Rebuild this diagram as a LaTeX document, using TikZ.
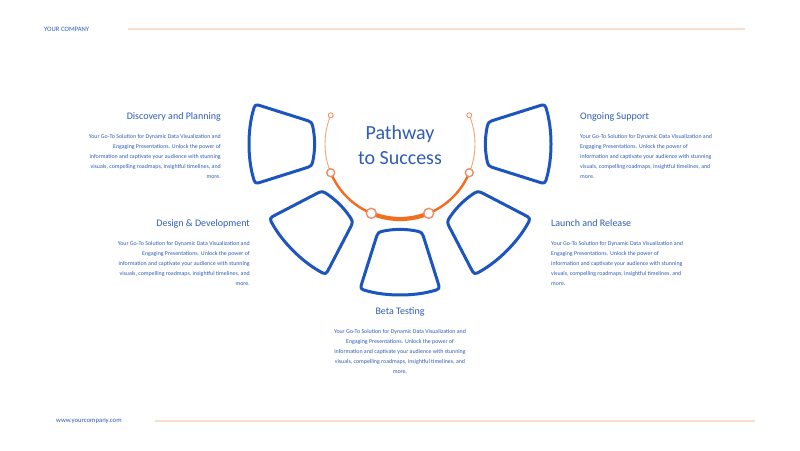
\documentclass[tikz,border=0pt]{standalone}
\usepackage{fontspec}
\setmainfont{Carlito}
\usetikzlibrary{positioning,calc}

\definecolor{inkblue}{HTML}{2F5DB3}
\definecolor{ringblue}{HTML}{1C55BE}
\definecolor{pathorange}{HTML}{F26D1F}
\definecolor{paleorange}{HTML}{F4A774}
\definecolor{dotorange}{HTML}{EC8E66}
\definecolor{rulepeach}{HTML}{F8DDCC}

\newcommand{\blurbtext}{Your Go-To Solution for Dynamic Data Visualization and\\
Engaging Presentations. Unlock the power of\\
information and captivate your audience with stunning\\
visuals, compelling roadmaps, insightful timelines, and\\
more.}

\tikzset{
  heading/.style={text=inkblue, font=\fontsize{10}{12}\selectfont, inner sep=0pt, text depth=2.2pt},
  bodytext/.style={text=inkblue, font=\fontsize{5.9}{10.2}\selectfont, inner sep=0pt},
  corner/.style={text=inkblue, font=\fontsize{6.7}{8}\selectfont, inner sep=0pt},
  stage/.style={draw=ringblue, line width=3pt, line join=round},
  rule/.style={draw=rulepeach, line width=1.1pt},
  dot/.style={circle, draw=dotorange, fill=white, line width=1.4pt, inner sep=0pt, minimum size=#1},
  dot/.default=9pt
}

\begin{document}
\begin{tikzpicture}[x=1pt,y=1pt]
\useasboundingbox[fill=white] (0,0) rectangle (800,450);

% header and footer
\node[corner, anchor=west] (company) at (44,421) {YOUR COMPANY};
\coordinate (topL) at (128,421);
\coordinate (topR) at (745,421);
\draw[rule] (topL) -- (topR);
\node[corner, anchor=west] (web) at (56,29) {www.yourcompany.com};
\coordinate (botL) at (155,29);
\coordinate (botR) at (755,29);
\draw[rule] (botL) -- (botR);

% the five stages
\foreach \r in {-90,-45,0,45,90}{
  \begin{scope}[shift={(400,306)},rotate=\r]
    \draw[stage] (-14.1,-86.6) .. controls (-5,-85) and (5,-85) .. (14.1,-86.6)
      .. controls (22,-88) .. (24.4,-95.6) -- (37.6,-137.4) .. controls (40,-145) .. (32.3,-147.1)
      .. controls (13,-152.3) and (-13,-152.3) .. (-32.3,-147.1)
      .. controls (-40,-145) .. (-37.6,-137.4) -- (-24.4,-95.6) .. controls (-22,-88) .. cycle;
  \end{scope}
}

% pathway arc
\coordinate (c) at (400,306);
\draw[paleorange, line width=0.9pt] ($(c)+(157.5:75)$) arc[start angle=157.5, end angle=202.5, radius=75];
\draw[paleorange, line width=0.9pt] ($(c)+(-22.5:75)$) arc[start angle=-22.5, end angle=22.5, radius=75];
\draw[pathorange, line width=2.4pt] ($(c)+(202.5:75)$) arc[start angle=202.5, end angle=247.5, radius=75];
\draw[pathorange, line width=2.4pt] ($(c)+(292.5:75)$) arc[start angle=292.5, end angle=337.5, radius=75];
\draw[pathorange, line width=4.2pt] ($(c)+(247.5:75)$) arc[start angle=247.5, end angle=292.5, radius=75];

\node[dot=5pt, line width=0.8pt] (endL) at ($(c)+(157.5:75)$) {};
\node[dot=5pt, line width=0.8pt] (endR) at ($(c)+(22.5:75)$) {};
\node[dot=8pt] (m1) at ($(c)+(202.5:75)$) {};
\node[dot=10pt] (m2) at ($(c)+(247.5:75)$) {};
\node[dot=10pt] (m3) at ($(c)+(292.5:75)$) {};
\node[dot=8pt] (m4) at ($(c)+(337.5:75)$) {};

\node[text=inkblue, font=\fontsize{20}{25}\selectfont, align=center, inner sep=0pt] (title) at (400,305) {Pathway\\to Success};

% labels
\node[heading, anchor=east] (disc) at (221,333) {Discovery and Planning};
\node[bodytext, align=right, below left=12pt and 0pt of disc.south east] (disctext) {\blurbtext};

\node[heading, anchor=east] (design) at (250,226) {Design \& Development};
\node[bodytext, align=right, below left=12pt and 0pt of design.south east] (designtext) {\blurbtext};

\node[heading] (beta) at (400,138) {Beta Testing};
\node[bodytext, align=center, below=12pt of beta.south] (betatext) {\blurbtext};

\node[heading, anchor=west] (launch) at (551,226) {Launch and Release};
\node[bodytext, align=left, below right=12pt and 0pt of launch.south west] (launchtext) {\blurbtext};

\node[heading, anchor=west] (support) at (580,333) {Ongoing Support};
\node[bodytext, align=left, below right=12pt and 0pt of support.south west] (supporttext) {\blurbtext};

\end{tikzpicture}
\end{document}
